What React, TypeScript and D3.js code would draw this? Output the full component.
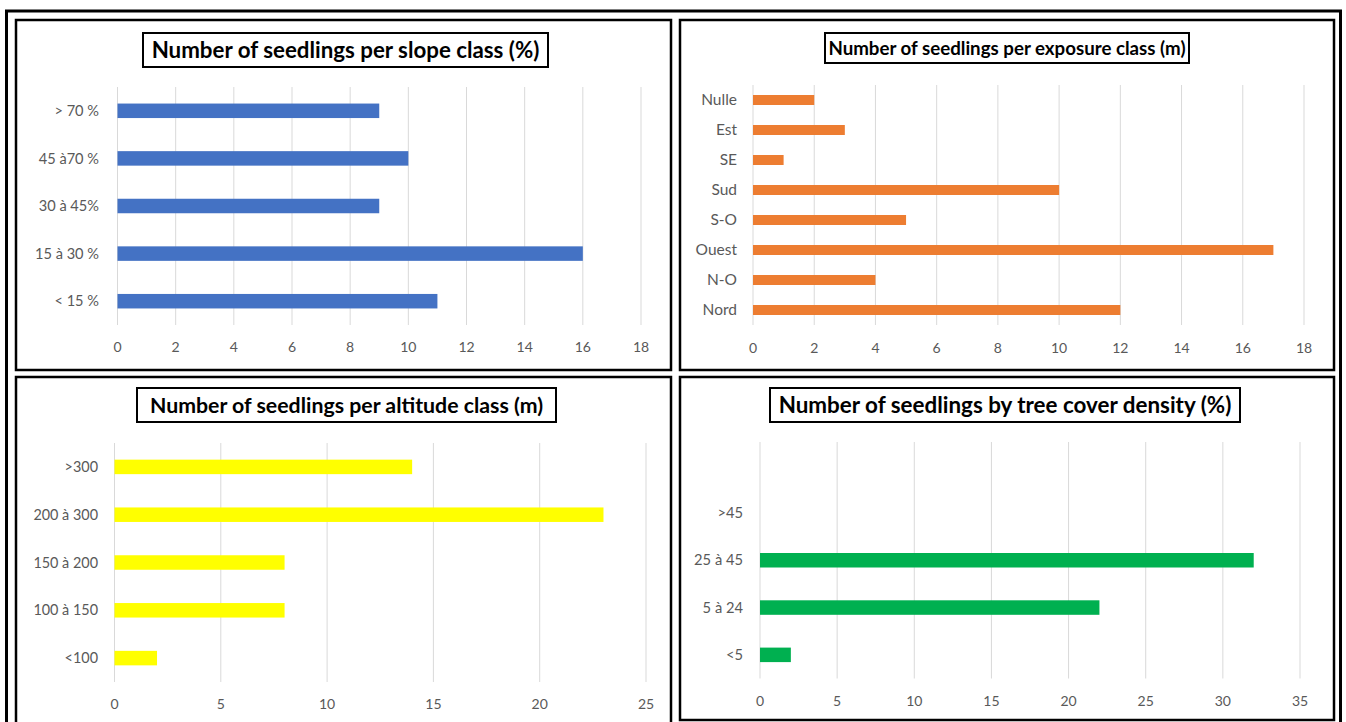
import React from "react";
import * as d3 from "d3";

// Seedling counts per class, one small set of arrays per panel
const slopeCategories = ["> 70 %", "45 à70 %", "30 à 45%", "15 à 30 %", "< 15 %"];
const slopeValues = [9, 10, 9, 16, 11];
const slopeTicks = [0, 2, 4, 6, 8, 10, 12, 14, 16, 18];

const exposureCategories = ["Nulle", "Est", "SE", "Sud", "S-O", "Ouest", "N-O", "Nord"];
const exposureValues = [2, 3, 1, 10, 5, 17, 4, 12];
const exposureTicks = [0, 2, 4, 6, 8, 10, 12, 14, 16, 18];

const altitudeCategories = [">300", "200 à 300", "150 à 200", "100 à 150", "<100"];
const altitudeValues = [14, 23, 8, 8, 2];
const altitudeTicks = [0, 5, 10, 15, 20, 25];

const coverCategories = [">45", "25 à 45", "5 à 24", "<5"];
const coverValues = [0, 32, 22, 2];
const coverTicks = [0, 5, 10, 15, 20, 25, 30, 35];

type Panel = {
  title: string;
  titleSize: number;
  titleBox: [number, number, number, number];
  frame: [number, number, number, number];
  categories: string[];
  values: number[];
  ticks: number[];
  color: string;
  xRange: [number, number];
  gridY: [number, number];
  bandY: [number, number];
  barH: number;
  labelX: number;
  labelSize: number;
  tickY: number;
};

const panels: Panel[] = [
  {
    title: "Number of seedlings per slope class (%)",
    titleSize: 22.3,
    titleBox: [143, 33, 405, 34],
    frame: [16, 20, 655, 350],
    categories: slopeCategories,
    values: slopeValues,
    ticks: slopeTicks,
    color: "#4472C4",
    xRange: [117.5, 641],
    gridY: [87, 325],
    bandY: [87, 325],
    barH: 14.5,
    labelX: 99,
    labelSize: 14.6,
    tickY: 347,
  },
  {
    title: "Number of seedlings per exposure class (m)",
    titleSize: 18.7,
    titleBox: [825, 33, 364, 30],
    frame: [680, 20, 654, 350],
    categories: exposureCategories,
    values: exposureValues,
    ticks: exposureTicks,
    color: "#ED7D31",
    xRange: [753, 1304],
    gridY: [85, 325],
    bandY: [85, 325],
    barH: 10,
    labelX: 737,
    labelSize: 15.5,
    tickY: 348,
  },
  {
    title: "Number of seedlings per altitude class (m)",
    titleSize: 21.3,
    titleBox: [137, 388, 419, 34],
    frame: [16, 377, 655, 360],
    categories: altitudeCategories,
    values: altitudeValues,
    ticks: altitudeTicks,
    color: "#FFFF00",
    xRange: [114.5, 646],
    gridY: [443, 682],
    bandY: [443, 682],
    barH: 14.5,
    labelX: 98,
    labelSize: 14.4,
    tickY: 704,
  },
  {
    title: "Number of seedlings by tree cover density (%)",
    titleSize: 22.4,
    titleBox: [770, 388, 470, 34],
    frame: [680, 377, 654, 343],
    categories: coverCategories,
    values: coverValues,
    ticks: coverTicks,
    color: "#00B050",
    xRange: [760, 1300],
    gridY: [442, 678.5],
    bandY: [489.3, 678.5],
    barH: 14.5,
    labelX: 743,
    labelSize: 14.7,
    tickY: 701,
  },
];

const FONT = "Lato, 'Open Sans', sans-serif";

function BarPanel({ p }: { p: Panel }) {
  const x = d3
    .scaleLinear()
    .domain([p.ticks[0], p.ticks[p.ticks.length - 1]])
    .range(p.xRange);
  const y = d3.scaleBand<string>().domain(p.categories).range(p.bandY);
  const [fx, fy, fw, fh] = p.frame;
  const [tx, ty, tw, th] = p.titleBox;
  return (
    <g>
      <rect x={fx} y={fy} width={fw} height={fh} fill="#fff" stroke="#000" strokeWidth={2.5} />
      {p.ticks.map((t) => (
        <line key={`g${t}`} x1={x(t)} x2={x(t)} y1={p.gridY[0]} y2={p.gridY[1]} stroke="#D9D9D9" strokeWidth={1} />
      ))}
      {p.categories.map((c, i) => {
        const cy = (y(c) ?? 0) + y.bandwidth() / 2;
        return (
          <g key={c}>
            {p.values[i] > 0 && (
              <rect x={x(0)} y={cy - p.barH / 2} width={x(p.values[i]) - x(0)} height={p.barH} fill={p.color} />
            )}
            <text x={p.labelX} y={cy} dy="0.35em" textAnchor="end" fontFamily={FONT} fontSize={p.labelSize} fill="#595959">
              {c}
            </text>
          </g>
        );
      })}
      {p.ticks.map((t) => (
        <text key={`t${t}`} x={x(t)} y={p.tickY} dy="0.35em" textAnchor="middle" fontFamily={FONT} fontSize={14} fill="#595959">
          {t}
        </text>
      ))}
      <rect x={tx} y={ty} width={tw} height={th} fill="#fff" stroke="#000" strokeWidth={2} />
      <text x={tx + tw / 2} y={ty + th / 2} dy="0.36em" textAnchor="middle" fontFamily={FONT} fontWeight="bold" fontSize={p.titleSize} fill="#000">
        {p.title}
      </text>
    </g>
  );
}

export default function App() {
  return (
    <svg width={1346} height={722} style={{ position: "absolute", left: 0, top: 0, background: "#fff" }}>
      <rect x={0} y={0} width={1346} height={722} fill="#fff" />
      <rect x={6.5} y={11} width={1334} height={730} fill="none" stroke="#000" strokeWidth={3} />
      {panels.map((p) => (
        <BarPanel key={p.title} p={p} />
      ))}
    </svg>
  );
}
